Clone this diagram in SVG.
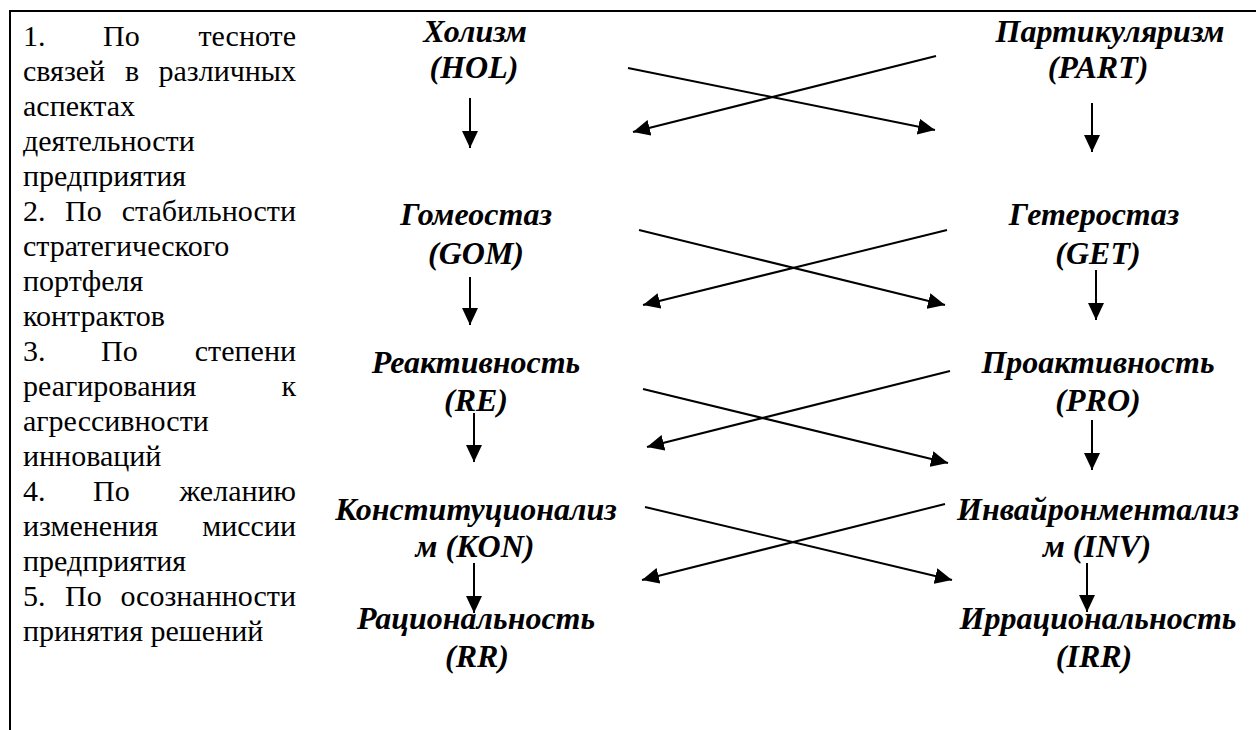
<svg xmlns="http://www.w3.org/2000/svg" width="1256" height="730" viewBox="0 0 1256 730">
<style>
.lt{font-family:"Liberation Serif","Times New Roman",serif;font-size:30px;fill:#000}
.nd{font-family:"Liberation Serif","Times New Roman",serif;font-size:32px;font-weight:bold;font-style:italic;fill:#000;text-anchor:middle}
.e{text-anchor:end}
.c{stroke:#000;stroke-width:2;fill:none;marker-end:url(#ah)}
</style>
<defs>
<marker id="ah" markerUnits="userSpaceOnUse" markerWidth="18" markerHeight="16" refX="17" refY="8" orient="auto">
<path d="M0,0 L17,8 L0,16 Z" fill="#000"/>
</marker>
</defs>
<rect width="1256" height="730" fill="#fff"/>
<g id="frame" stroke="#000" stroke-width="2">
<line x1="9" y1="11" x2="1256" y2="11"/>
<line x1="10" y1="11" x2="10" y2="730"/>
</g>
<g id="criteria" class="lt">
<text x="23" y="46">1.</text><text x="103" y="46">По</text><text x="296" y="46" class="e">тесноте</text>
<text x="23" y="81">связей</text><text x="125" y="81">в</text><text x="296" y="81" class="e">различных</text>
<text x="23" y="116">аспектах</text>
<text x="23" y="151">деятельности</text>
<text x="23" y="186">предприятия</text>
<text x="23" y="221">2.</text><text x="65" y="221">По</text><text x="296" y="221" class="e">стабильности</text>
<text x="23" y="256">стратегического</text>
<text x="23" y="291">портфеля</text>
<text x="23" y="326">контрактов</text>
<text x="23" y="361">3.</text><text x="101" y="361">По</text><text x="296" y="361" class="e">степени</text>
<text x="23" y="396">реагирования</text><text x="296" y="396" class="e">к</text>
<text x="23" y="431">агрессивности</text>
<text x="23" y="466">инноваций</text>
<text x="23" y="501">4.</text><text x="93" y="501">По</text><text x="296" y="501" class="e">желанию</text>
<text x="23" y="536">изменения</text><text x="296" y="536" class="e">миссии</text>
<text x="23" y="571">предприятия</text>
<text x="23" y="606">5.</text><text x="65" y="606">По</text><text x="296" y="606" class="e">осознанности</text>
<text x="23" y="641">принятия решений</text>
</g>
<g id="HOL" class="nd"><text x="475" y="42">Холизм</text><text x="474" y="78">(HOL)</text></g>
<g id="PART" class="nd"><text x="1110" y="42">Партикуляризм</text><text x="1098" y="78">(PART)</text></g>
<g id="GOM" class="nd"><text x="476" y="225">Гомеостаз</text><text x="476" y="264">(GOM)</text></g>
<g id="GET" class="nd"><text x="1094" y="225">Гетеростаз</text><text x="1098" y="264">(GET)</text></g>
<g id="RE" class="nd"><text x="476" y="373">Реактивность</text><text x="476" y="411">(RE)</text></g>
<g id="PRO" class="nd"><text x="1098" y="373">Проактивность</text><text x="1098" y="411">(PRO)</text></g>
<g id="KON" class="nd"><text x="476" y="520">Конституционализ</text><text x="475" y="557">м (KON)</text></g>
<g id="INV" class="nd"><text x="1098" y="520">Инвайронментализ</text><text x="1097" y="557">м (INV)</text></g>
<g id="RR" class="nd"><text x="476" y="629">Рациональность</text><text x="477" y="667">(RR)</text></g>
<g id="IRR" class="nd"><text x="1098" y="629">Иррациональность</text><text x="1094" y="667">(IRR)</text></g>
<g id="connectors">
<line class="c" x1="470" y1="98" x2="470" y2="148"/>
<line class="c" x1="1092" y1="103" x2="1092" y2="152"/>
<line class="c" x1="470" y1="277" x2="470" y2="325"/>
<line class="c" x1="1096" y1="270" x2="1096" y2="320"/>
<line class="c" x1="474" y1="413" x2="474" y2="462"/>
<line class="c" x1="1092" y1="420" x2="1092" y2="470"/>
<line class="c" x1="474" y1="563" x2="474" y2="613"/>
<line class="c" x1="1087" y1="563" x2="1087" y2="612"/>
<line class="c" x1="628" y1="68" x2="935" y2="130"/>
<line class="c" x1="936" y1="56" x2="633" y2="132"/>
<line class="c" x1="639" y1="230" x2="945" y2="305"/>
<line class="c" x1="947" y1="230" x2="643" y2="305"/>
<line class="c" x1="643" y1="389" x2="948" y2="463"/>
<line class="c" x1="950" y1="371" x2="647" y2="447"/>
<line class="c" x1="645" y1="507" x2="952" y2="580"/>
<line class="c" x1="945" y1="504" x2="642" y2="580"/>
</g>
</svg>
